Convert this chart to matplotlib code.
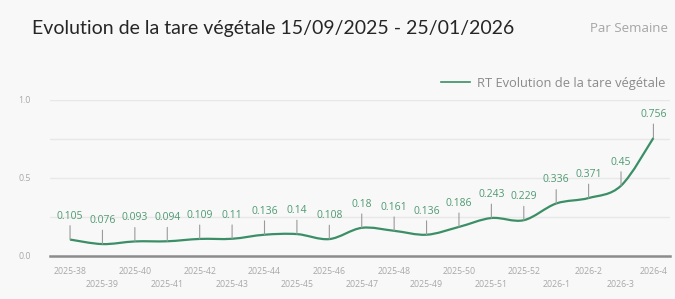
import matplotlib.pyplot as plt
import numpy as np
from matplotlib.path import Path
from matplotlib.patches import PathPatch

plt.rcParams['font.family'] = ['Open Sans', 'DejaVu Sans']

# Weekly data
weeks = ['2025-38', '2025-39', '2025-40', '2025-41', '2025-42', '2025-43', '2025-44',
         '2025-45', '2025-46', '2025-47', '2025-48', '2025-49', '2025-50', '2025-51',
         '2025-52', '2026-1', '2026-2', '2026-3', '2026-4']
tare = [0.105, 0.076, 0.093, 0.094, 0.109, 0.11, 0.136, 0.14, 0.108, 0.18, 0.161,
        0.136, 0.186, 0.243, 0.229, 0.336, 0.371, 0.45, 0.756]
series_name = 'RT Evolution de la tare végétale'

green = '#3b8f66'
bg = '#f8f8f8'

fig = plt.figure(figsize=(6.75, 2.99), dpi=100, facecolor=bg)
ax = fig.add_axes([0.074, 0.144, 0.919, 0.522], facecolor=bg)

x = np.arange(len(weeks))
y = np.array(tare)

# smooth curve through the points (Catmull-Rom as cubic bezier)
verts = [(x[0], y[0])]
codes = [Path.MOVETO]
for i in range(len(x) - 1):
    p0 = np.array([x[max(i - 1, 0)], y[max(i - 1, 0)]])
    p1 = np.array([x[i], y[i]])
    p2 = np.array([x[i + 1], y[i + 1]])
    p3 = np.array([x[min(i + 2, len(x) - 1)], y[min(i + 2, len(x) - 1)]])
    c1 = p1 + (p2 - p0) / 6
    c2 = p2 - (p3 - p1) / 6
    verts += [tuple(c1), tuple(c2), tuple(p2)]
    codes += [Path.CURVE4] * 3
ax.add_patch(PathPatch(Path(verts, codes), facecolor='none', edgecolor=green, lw=1.6, zorder=3))
# empty line for the legend entry
ax.plot([], [], color=green, lw=1.2, label=series_name)

# data labels with small leader ticks
for xi, yi in zip(x, y):
    ax.annotate(f'{yi:g}', xy=(xi, yi), xytext=(0, 13), textcoords='offset points',
                ha='center', va='bottom', fontsize=7.5, color='#4f9a72',
                arrowprops=dict(arrowstyle='-', color='#9a9a9a', lw=0.8, shrinkA=1, shrinkB=0))

# grid
for g in [0.25, 0.5, 0.75, 1.0]:
    ax.axhline(g, color='#e8e8e8', lw=1.0, zorder=0)
ax.axhline(0, color='#8c8c8c', lw=1.8, zorder=1, clip_on=False)

ax.set_xlim(-0.62, 18.52)
ax.set_ylim(0, 1.0)
ax.set_yticks([0, 0.5, 1.0])
ax.set_yticklabels(['0.0', '0.5', '1.0'])
ax.set_xticks(x)
ax.set_xticklabels([w if i % 2 == 0 else '\n' + w for i, w in enumerate(weeks)],
                   linespacing=1.5)
ax.tick_params(axis='both', length=0, labelsize=6.3, labelcolor='#a8a8a8')
ax.tick_params(axis='y', pad=14)
ax.tick_params(axis='x', pad=8)
for s in ax.spines.values():
    s.set_visible(False)

ax.legend(loc='lower right', bbox_to_anchor=(1.0, 1.03), frameon=False, fontsize=9.3,
          labelcolor='#8a8a8a', handlelength=2.3, handletextpad=0.5, borderaxespad=0)

fig.text(0.047, 0.905, 'Evolution de la tare végétale 15/09/2025 - 25/01/2026',
         fontsize=14, color='#262626', va='center', family=['Lato', 'DejaVu Sans'])
fig.text(0.99, 0.905, 'Par Semaine', fontsize=9.5, color='#a5a5a5', va='center', ha='right')

fig.savefig('out.png', dpi=100, facecolor=bg)
